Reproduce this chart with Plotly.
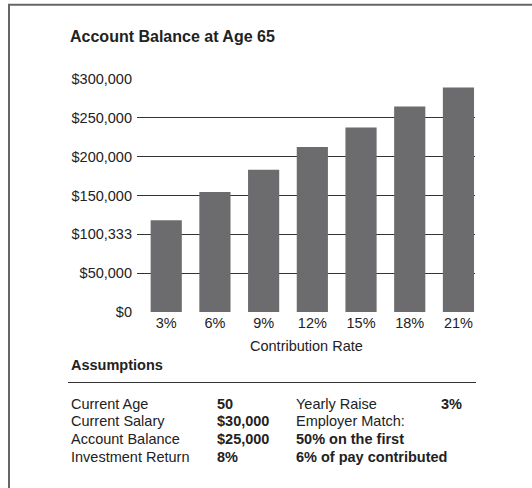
import plotly.graph_objects as go

# ---- data ----
categories = ["3%", "6%", "9%", "12%", "15%", "18%", "21%"]
balances = [118000, 154500, 183000, 212500, 237500, 264500, 289000]
y_tickvals = [0, 50000, 100000, 150000, 200000, 250000, 300000]
y_ticktext = ["$0", "$50,000", "$100,333", "$150,000", "$200,000", "$250,000", "$300,000"]

assump_labels_left = ["Current Age", "Current Salary", "Account Balance", "Investment Return"]
assump_values_left = ["50", "$30,000", "$25,000", "8%"]
assump_labels_right = ["Yearly Raise", "Employer Match:", "<b>50% on the first</b>", "<b>6% of pay contributed</b>"]
assump_values_right = ["3%", "", "", ""]

# ---- layout geometry (pixels) ----
W, H = 532, 488
L, R, T, B = 137, 57, 79, 176
PW, PH = W - L - R, H - T - B

def px(x):
    return (x - L) / PW

def py(y):
    return (H - B - y) / PH

FONT = "Liberation Sans, Arial, Helvetica, sans-serif"
TXT = "#222222"
FS = 14.5

fig = go.Figure()
fig.add_trace(go.Bar(
    x=categories, y=balances,
    marker=dict(color="#6c6c6e", line=dict(width=0)),
    hoverinfo="skip",
))

annotations = []

def ann(text, x, y, size=FS, bold=False, xanchor="left"):
    annotations.append(dict(
        text=f"<b>{text}</b>" if bold else text,
        x=px(x), y=py(y), xref="paper", yref="paper",
        xanchor=xanchor, yanchor="middle", showarrow=False,
        font=dict(family=FONT, size=size, color=TXT),
    ))

ann("Account Balance at Age 65", 68, 37, size=16, bold=True)
ann("Contribution Rate", 306, 345.5, xanchor="center")
ann("Assumptions", 69, 365, bold=True)

row_y = [403.5, 421, 438.5, 456.5]
for i in range(4):
    ann(assump_labels_left[i], 68.5, row_y[i])
    ann(assump_values_left[i], 214.5, row_y[i], bold=True)
    ann(assump_labels_right[i], 293.5, row_y[i])
    if assump_values_right[i]:
        ann(assump_values_right[i], 438.5, row_y[i], bold=True)

shapes = [
    # rule under "Assumptions"
    dict(type="line", xref="paper", yref="paper",
         x0=px(68), x1=px(476), y0=py(382.5), y1=py(382.5),
         line=dict(color="#333333", width=1)),
    # frame (top and left)
    dict(type="line", xref="paper", yref="paper",
         x0=px(8), x1=px(532), y0=py(4.8), y1=py(4.8),
         line=dict(color="#666666", width=2)),
    dict(type="line", xref="paper", yref="paper",
         x0=px(9), x1=px(9), y0=py(4), y1=py(488),
         line=dict(color="#666666", width=2)),
]

fig.update_layout(
    width=W, height=H,
    margin=dict(l=L, r=R, t=T, b=B, pad=0),
    paper_bgcolor="white", plot_bgcolor="white",
    font=dict(family=FONT, size=FS, color=TXT),
    showlegend=False,
    bargap=0.36,
    xaxis=dict(
        type="category", range=[-0.6, 6.34],
        showgrid=False, zeroline=False, showline=False,
        ticks="", tickfont=dict(size=FS, color=TXT),
        fixedrange=True,
    ),
    yaxis=dict(
        range=[0, 300000],
        tickvals=y_tickvals, ticktext=y_ticktext,
        showgrid=True, gridcolor="#333333", gridwidth=1.2,
        zeroline=False, showline=False, ticks="",
        ticklabelstandoff=4,
        tickfont=dict(size=FS, color=TXT),
        fixedrange=True,
    ),
    annotations=annotations,
    shapes=shapes,
)

fig.write_html("out.html")
